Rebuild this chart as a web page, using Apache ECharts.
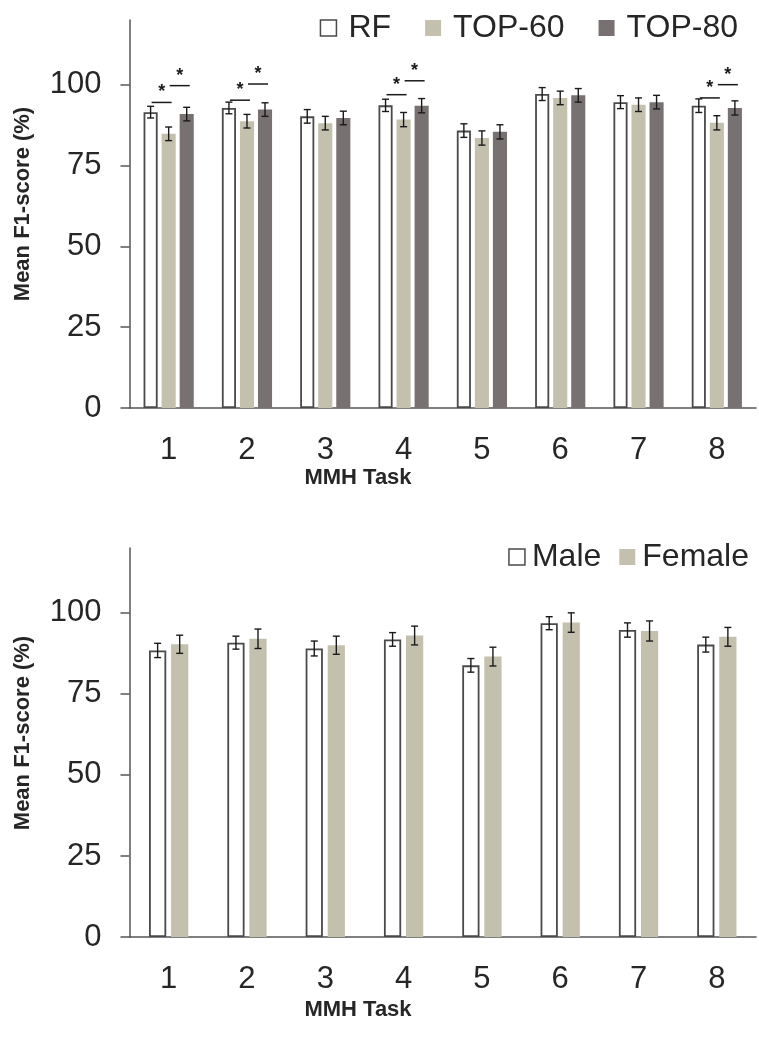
<!DOCTYPE html>
<html>
<head>
<meta charset="utf-8">
<script src="https://cdn.jsdelivr.net/npm/echarts@6/dist/echarts.min.js"></script>
<style>
  html, body { margin: 0; padding: 0; background: #fff; }
  #chart { width: 759px; height: 1047px; }
</style>
</head>
<body>
<div id="chart"></div>
<script>
// MMH task categories
const categories = ['1', '2', '3', '4', '5', '6', '7', '8'];
const yTicks = [0, 25, 50, 75, 100];

// Panel A: classifier feature sets (mean F1 %, error = SD)
const rfMean    = [91.5, 92.8, 90.2, 93.6, 85.8, 97.1, 94.6, 93.5];
const rfErr     = [1.8, 1.8, 2.1, 1.9, 2.1, 2.0, 2.0, 2.1];
const top60Mean = [84.8, 88.7, 88.1, 89.2, 83.5, 95.9, 93.8, 88.2];
const top60Err  = [2.1, 2.1, 2.1, 2.2, 2.2, 2.1, 2.1, 2.2];
const top80Mean = [90.9, 92.3, 89.7, 93.5, 85.4, 96.7, 94.6, 92.8];
const top80Err  = [2.1, 2.1, 2.1, 2.2, 2.2, 2.1, 2.1, 2.2];

// Significant pairwise differences: [task index, bar A, bar B, bracket level]
const sigPairs = [
  [0, 0, 1, 94.5], [0, 1, 2, 99.7],
  [1, 0, 1, 95.2], [1, 1, 2, 100.2],
  [3, 0, 1, 96.9], [3, 1, 2, 101.2],
  [7, 0, 1, 95.9], [7, 1, 2, 100.0]
];

// Panel B: by sex
const maleMean   = [88.4, 90.8, 89.0, 91.8, 83.8, 96.8, 94.7, 90.2];
const maleErr    = [2.2, 2.0, 2.3, 2.1, 2.1, 2.0, 2.2, 2.3];
const femaleMean = [90.3, 92.0, 90.0, 93.0, 86.5, 97.0, 94.4, 92.6];
const femaleErr  = [2.8, 3.0, 2.8, 2.9, 2.9, 3.0, 3.1, 2.9];

const FONT = "'Liberation Sans', Arial, sans-serif";
const TEXT = '#262626';
const AXIS = '#555555';
const C_WHITE = '#ffffff';
const C_LIGHT = '#c3c0ad';
const C_DARK = '#777171';

// Bar layout shared by the bars and the overlays
const layoutA = { n: 3, width: 0.18, gap: 0.28 };
const layoutB = { n: 2, width: 0.22, gap: 0.28 };

function barOffset(api, layout, i) {
  const band = api.size([1, 0])[0];
  const w = band * layout.width;
  const g = w * layout.gap;
  const total = layout.n * w + (layout.n - 1) * g;
  return -total / 2 + i * (w + g) + w / 2;
}

function barSeries(name, means, color, panel, layout) {
  const s = {
    name: name, type: 'bar',
    xAxisIndex: panel, yAxisIndex: panel,
    data: means,
    barWidth: (layout.width * 100) + '%',
    barGap: (layout.gap * 100) + '%',
    itemStyle: { color: color }
  };
  if (color === C_WHITE) {
    s.itemStyle.borderColor = '#4a4a4a';
    s.itemStyle.borderWidth = 1.8;
  }
  return s;
}

function errorSeries(means, errs, panel, layout, idx) {
  return {
    type: 'custom',
    xAxisIndex: panel, yAxisIndex: panel,
    silent: true, z: 5,
    data: means.map((m, k) => [k, m, errs[k]]),
    encode: { x: 0, y: 1 },
    renderItem: function (params, api) {
      const k = api.value(0), m = api.value(1), e = api.value(2);
      const dx = barOffset(api, layout, idx);
      const hi = api.coord([k, m + e]);
      const lo = api.coord([k, m - e]);
      const x = hi[0] + dx, cap = 3.5;
      const st = { stroke: '#1a1a1a', lineWidth: 1.4 };
      return {
        type: 'group',
        children: [
          { type: 'line', shape: { x1: x, y1: hi[1], x2: x, y2: lo[1] }, style: st },
          { type: 'line', shape: { x1: x - cap, y1: hi[1], x2: x + cap, y2: hi[1] }, style: st },
          { type: 'line', shape: { x1: x - cap, y1: lo[1], x2: x + cap, y2: lo[1] }, style: st }
        ]
      };
    }
  };
}

function sigSeries(pairs, panel, layout) {
  return {
    type: 'custom',
    xAxisIndex: panel, yAxisIndex: panel,
    silent: true, z: 6,
    data: pairs,
    encode: { x: 0, y: 3 },
    renderItem: function (params, api) {
      const k = api.value(0), a = api.value(1), b = api.value(2), lvl = api.value(3);
      const p = api.coord([k, lvl]);
      const x1 = p[0] + barOffset(api, layout, a) + 1;
      const x2 = p[0] + barOffset(api, layout, b) + 3;
      return {
        type: 'group',
        children: [
          { type: 'line', shape: { x1: x1, y1: p[1], x2: x2, y2: p[1] },
            style: { stroke: '#1a1a1a', lineWidth: 1.5 } },
          { type: 'text', x: (x1 + x2) / 2, y: p[1] - 1,
            style: { text: '*', font: 'bold 18px ' + FONT, fill: '#1a1a1a',
                     align: 'center', verticalAlign: 'bottom' } }
        ]
      };
    }
  };
}

function xAxis(panel) {
  return {
    type: 'category', gridIndex: panel, data: categories,
    axisLine: { lineStyle: { color: AXIS, width: 1.5 } },
    axisTick: { show: false },
    axisLabel: { color: TEXT, fontSize: 31, fontFamily: FONT, margin: 27 }
  };
}

function yAxis(panel) {
  return {
    type: 'value', gridIndex: panel, min: 0, max: 120, interval: 25,
    axisLine: { show: true, lineStyle: { color: AXIS, width: 1.5 } },
    axisTick: { show: true, inside: false, length: 9, customValues: yTicks,
                lineStyle: { color: AXIS, width: 1.5 } },
    axisLabel: { color: TEXT, fontSize: 31, fontFamily: FONT, margin: 28, customValues: yTicks },
    splitLine: { show: false }
  };
}

function legendItem(name, color) {
  const it = { name: name, itemStyle: { color: color } };
  if (color === C_WHITE) { it.itemStyle.borderColor = '#4a4a4a'; it.itemStyle.borderWidth = 1.5; }
  return it;
}

const titleFont = 'bold 22px ' + FONT;

const chart = echarts.init(document.getElementById('chart'), null, { renderer: 'canvas' });
chart.setOption({
  animation: false,
  backgroundColor: '#ffffff',
  grid: [
    { left: 129.5, right: 3, top: 20, bottom: 639 },
    { left: 129.5, right: 3, top: 548, bottom: 110 }
  ],
  xAxis: [xAxis(0), xAxis(1)],
  yAxis: [yAxis(0), yAxis(1)],
  legend: [
    {
      right: 16, top: 7, itemWidth: 16, itemHeight: 16, itemGap: 34,
      icon: 'rect',
      textStyle: { fontSize: 32, fontFamily: FONT, color: TEXT, padding: [0, 0, 0, 7] },
      data: [legendItem('RF', C_WHITE), legendItem('TOP-60', C_LIGHT), legendItem('TOP-80', C_DARK)]
    },
    {
      right: 5, top: 536, itemWidth: 16, itemHeight: 16, itemGap: 18,
      icon: 'rect',
      textStyle: { fontSize: 32, fontFamily: FONT, color: TEXT, padding: [0, 0, 0, 2] },
      data: [legendItem('Male', C_WHITE), legendItem('Female', C_LIGHT)]
    }
  ],
  graphic: [
    { type: 'text', x: 23, y: 204, rotation: Math.PI / 2,
      style: { text: 'Mean F1-score (%)', font: titleFont, fill: TEXT, align: 'center', verticalAlign: 'middle' } },
    { type: 'text', x: 23, y: 733, rotation: Math.PI / 2,
      style: { text: 'Mean F1-score (%)', font: titleFont, fill: TEXT, align: 'center', verticalAlign: 'middle' } },
    { type: 'text', x: 358, y: 478,
      style: { text: 'MMH Task', font: titleFont, fill: TEXT, align: 'center', verticalAlign: 'middle' } },
    { type: 'text', x: 358, y: 1010,
      style: { text: 'MMH Task', font: titleFont, fill: TEXT, align: 'center', verticalAlign: 'middle' } }
  ],
  series: [
    barSeries('RF', rfMean, C_WHITE, 0, layoutA),
    barSeries('TOP-60', top60Mean, C_LIGHT, 0, layoutA),
    barSeries('TOP-80', top80Mean, C_DARK, 0, layoutA),
    errorSeries(rfMean, rfErr, 0, layoutA, 0),
    errorSeries(top60Mean, top60Err, 0, layoutA, 1),
    errorSeries(top80Mean, top80Err, 0, layoutA, 2),
    sigSeries(sigPairs, 0, layoutA),
    barSeries('Male', maleMean, C_WHITE, 1, layoutB),
    barSeries('Female', femaleMean, C_LIGHT, 1, layoutB),
    errorSeries(maleMean, maleErr, 1, layoutB, 0),
    errorSeries(femaleMean, femaleErr, 1, layoutB, 1)
  ]
});
</script>
</body>
</html>
